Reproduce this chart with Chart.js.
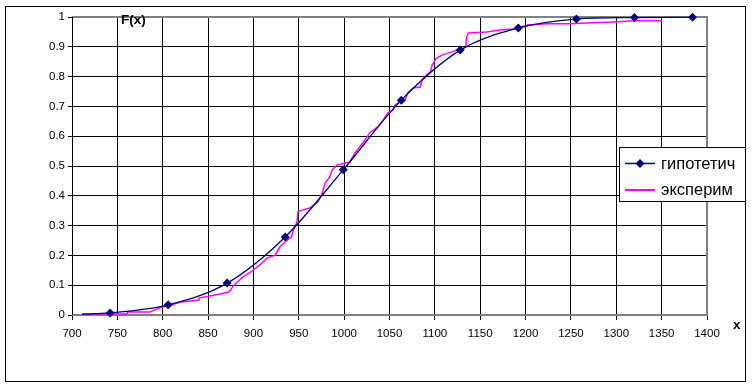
<!DOCTYPE html>
<html>
<head>
<meta charset="utf-8">
<script src="https://cdn.jsdelivr.net/npm/chart.js@4.4.1/dist/chart.umd.min.js"></script>
<style>
  body { margin: 0; background: #fff; }
  #wrap { width: 752px; height: 386px; }
</style>
</head>
<body>
<div id="wrap"><canvas id="cdfChart" width="752" height="386"></canvas></div>
<script>
// hypothetical (normal) CDF — markers at the sample points
const hypX = [711, 742, 806, 871, 935, 999, 1063, 1128, 1192, 1256, 1320, 1384];
const hypY = [0.003, 0.007, 0.034, 0.107, 0.262, 0.487, 0.721, 0.889, 0.963, 0.993, 0.998, 0.999];
const hypMarker = [0, 4.5, 4.5, 4.5, 4.5, 4.5, 4.5, 4.5, 4.5, 4.5, 4.5, 4.5];

const expX = [711, 760, 762, 786, 796, 810, 821, 840, 840, 862, 873, 879, 887, 900, 907, 915, 924, 929, 935, 942, 944, 948, 949, 954, 962, 971, 976, 979, 984, 987, 992, 1001, 1006, 1012, 1023, 1028, 1037, 1043, 1048, 1054, 1056, 1062, 1067, 1070, 1076, 1084, 1086, 1091, 1095, 1097, 1102, 1108, 1119, 1124, 1130, 1134, 1135, 1137, 1157, 1172, 1186, 1194, 1202, 1224, 1249, 1268, 1296, 1321, 1350];
const expY = [0.003, 0.003, 0.010, 0.010, 0.023, 0.034, 0.044, 0.050, 0.057, 0.070, 0.077, 0.101, 0.124, 0.151, 0.168, 0.191, 0.201, 0.228, 0.245, 0.262, 0.285, 0.312, 0.346, 0.352, 0.359, 0.379, 0.409, 0.443, 0.463, 0.487, 0.503, 0.510, 0.513, 0.544, 0.587, 0.611, 0.631, 0.654, 0.678, 0.688, 0.705, 0.715, 0.721, 0.745, 0.762, 0.765, 0.789, 0.805, 0.815, 0.839, 0.862, 0.872, 0.883, 0.889, 0.893, 0.899, 0.933, 0.946, 0.950, 0.956, 0.960, 0.966, 0.973, 0.977, 0.977, 0.980, 0.983, 0.987, 0.987];

const FONT = "'Liberation Sans', Arial, sans-serif";
const NAVY = "#000080";
const MAGENTA = "#FF00FF";

// frame, plot border, legend and axis captions (Excel look)
const excelFrame = {
  id: "excelFrame",
  beforeDatasetsDraw(chart) {
    const { ctx, chartArea: a } = chart;
    ctx.save();
    ctx.strokeStyle = "#808080";
    ctx.lineWidth = 2;
    ctx.beginPath();
    ctx.moveTo(a.left, a.top);
    ctx.lineTo(a.right, a.top);
    ctx.lineTo(a.right, a.bottom);
    ctx.lineTo(a.left, a.bottom);
    ctx.stroke();
    ctx.strokeStyle = "#000";
    ctx.lineWidth = 1;
    ctx.beginPath();
    ctx.moveTo(a.left + 0.5, a.top);
    ctx.lineTo(a.left + 0.5, a.bottom);
    ctx.stroke();
    ctx.restore();
  },
  afterDraw(chart) {
    const { ctx } = chart;
    ctx.save();
    // outer chart border
    ctx.strokeStyle = "#000";
    ctx.lineWidth = 1;
    ctx.strokeRect(5.5, 6.5, 740, 375);

    // axis captions
    ctx.fillStyle = "#000";
    ctx.font = "bold 13.5px " + FONT;
    ctx.textBaseline = "middle";
    ctx.fillText("F(x)", 121, 20);
    ctx.fillText("x", 733, 325);

    // legend
    ctx.fillStyle = "#fff";
    ctx.fillRect(619, 147, 126, 54);
    ctx.strokeRect(619.5, 147.5, 126, 54);
    ctx.lineWidth = 1.5;
    ctx.strokeStyle = NAVY;
    ctx.beginPath();
    ctx.moveTo(625, 163.5);
    ctx.lineTo(655, 163.5);
    ctx.stroke();
    ctx.fillStyle = NAVY;
    ctx.beginPath();
    ctx.moveTo(640, 159);
    ctx.lineTo(644.5, 163.5);
    ctx.lineTo(640, 168);
    ctx.lineTo(635.5, 163.5);
    ctx.closePath();
    ctx.fill();
    ctx.lineWidth = 2;
    ctx.strokeStyle = MAGENTA;
    ctx.beginPath();
    ctx.moveTo(625, 190);
    ctx.lineTo(655, 190);
    ctx.stroke();
    ctx.fillStyle = "#000";
    ctx.font = "16.5px " + FONT;
    ctx.fillText("гипотетич", 661, 164);
    ctx.fillText("эксперим", 661, 190);
    ctx.restore();
  }
};

new Chart(document.getElementById("cdfChart"), {
  type: "line",
  data: {
    datasets: [
      {
        label: "гипотетич",
        data: hypX.map((x, i) => ({ x, y: hypY[i] })),
        borderColor: NAVY,
        backgroundColor: NAVY,
        borderWidth: 1.3,
        pointStyle: "rectRot",
        pointRadius: hypMarker,
        pointBorderWidth: 0,
        cubicInterpolationMode: "monotone",
        clip: false
      },
      {
        label: "эксперим",
        data: expX.map((x, i) => ({ x, y: expY[i] })),
        borderColor: MAGENTA,
        backgroundColor: MAGENTA,
        borderWidth: 1.5,
        pointRadius: 0,
        clip: false
      }
    ]
  },
  options: {
    responsive: false,
    animation: false,
    layout: { padding: { left: 0, top: 17, right: 45, bottom: 0 } },
    plugins: {
      legend: { display: false },
      tooltip: { enabled: false }
    },
    scales: {
      x: {
        type: "linear",
        min: 700,
        max: 1400,
        afterFit: s => { s.height = 71; },
        ticks: {
          stepSize: 50,
          color: "#000",
          padding: 7,
          maxRotation: 0,
          font: { family: FONT, size: 11.5 },
          callback: v => String(v)
        },
        grid: { color: "#000", lineWidth: 1, tickLength: 5 },
        border: { display: false }
      },
      y: {
        min: 0,
        max: 1,
        afterFit: s => { s.width = 72; },
        ticks: {
          stepSize: 0.1,
          color: "#000",
          padding: 3,
          font: { family: FONT, size: 11.5 },
          callback: v => (v === 0 ? "0" : v === 1 ? "1" : v.toFixed(1))
        },
        grid: { color: "#000", lineWidth: 1, tickLength: 4 },
        border: { display: false }
      }
    }
  },
  plugins: [excelFrame]
});
</script>
</body>
</html>
